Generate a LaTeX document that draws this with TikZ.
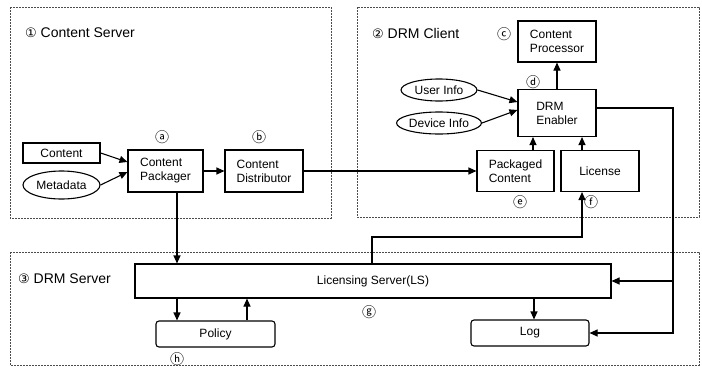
\documentclass[tikz,border=0pt]{standalone}
\usepackage{fontspec}
\setmainfont{Liberation Sans}
\newfontfamily\circfont{DejaVu Sans}
\newfontfamily\tagfont{Noto Sans CJK SC}
\usetikzlibrary{arrows.meta,shapes.geometric}
\tikzset{
  box/.style={draw, line width=1.1pt, inner sep=0pt, align=left, font=\fontsize{12}{14}\selectfont},
  rbox/.style={box, rounded corners=3pt},
  oval/.style={draw, ellipse, line width=1.1pt, inner sep=0pt, font=\fontsize{12}{14}\selectfont},
  group/.style={draw=black!70, dash pattern=on 2pt off 1pt, line width=0.7pt},
  tag/.style={inner sep=0pt, font=\tagfont\fontsize{14}{14}\selectfont},
  title/.style={anchor=west, inner sep=0pt, font=\fontsize{14}{16}\selectfont},
  flow/.style={line width=1.1pt, -{Triangle[length=8pt,width=7pt]}},
  wire/.style={line width=1.1pt}
}

\begin{document}
\begin{tikzpicture}[x=1pt, y=-1pt]
			%%%%% START %%%%%
			\useasboundingbox (0,0) rectangle (702,367);
			
			\draw[group] (10,7) rectangle (331,218);
			\draw[group] (357,7) rectangle (699,217);
			\draw[group] (10,252) rectangle (699,365);
			
			\node[title] (cstitle) at (25,33) {{\circfont\fontsize{13}{14}\selectfont ①} Content Server};
			\node[title] (cltitle) at (372,33) {{\circfont\fontsize{13}{14}\selectfont ②} DRM Client};
			\node[title] (svtitle) at (18,279) {{\circfont\fontsize{13}{14}\selectfont ③} DRM Server};
			
			% content server
			\node[box, minimum width=77pt, minimum height=20pt] (content) at (61.5,153) {Content};
			\node[oval, minimum width=77pt, minimum height=28pt] (metadata) at (61.5,185) {Metadata};
			\node[box, minimum width=75pt, minimum height=42pt] (packager) at (165.5,171) {Content\\Packager};
			\node[box, minimum width=78pt, minimum height=42pt] (distributor) at (264,171) {Content\\Distributor};
			\node[tag] (ta) at (162,137) {ⓐ};
			\node[tag] (tb) at (259,137) {ⓑ};
			
			% drm client
			\node[box, minimum width=78pt, minimum height=41pt] (processor) at (557,41.5) {Content\\Processor};
			\node[box, minimum width=78pt, minimum height=47pt] (enabler) at (557,113) {DRM\\Enabler};
			\node[oval, minimum width=76pt, minimum height=22pt] (userinfo) at (439,90) {User Info};
			\node[oval, minimum width=76pt, minimum height=22pt] (deviceinfo) at (439,123) {Device Info};
			\node[box, minimum width=77pt, minimum height=41pt] (packaged) at (515.5,171) {Packaged\\Content};
			\node[box, minimum width=78pt, minimum height=41pt] (license) at (600,171) {License};
			\node[tag] (tc) at (504,34) {ⓒ};
			\node[tag] (td) at (533,82) {ⓓ};
			\node[tag] (te) at (520,202) {ⓔ};
			\node[tag] (tf) at (591,202) {ⓕ};
			
			% drm server
			\node[box, minimum width=476pt, minimum height=34pt] (ls) at (373,281) {Licensing Server(LS)};
			\node[rbox, minimum width=119pt, minimum height=26pt] (policy) at (215.5,334) {Policy};
			\node[rbox, minimum width=118pt, minimum height=26pt] (log) at (530,333) {Log};
			\node[tag] (tg) at (369,312) {ⓖ};
			\node[tag] (th) at (177,359) {ⓗ};
			
			\coordinate (bend) at (673,281);
			\coordinate (lsup) at (372,237);
			
			\draw[flow] (content.east) -- ([yshift=9pt]packager.west);
			\draw[flow] (metadata.east) -- ([yshift=-1pt]packager.west);
			\draw[flow] (packager.east) -- (distributor.west);
			\draw[flow] (distributor.east) -- (packaged.west);
			
			\draw[flow] (userinfo.east) -- ([yshift=11pt]enabler.west);
			\draw[flow] (deviceinfo.east) -- ([yshift=3pt]enabler.west);
			\draw[flow] ([xshift=17.5pt]packaged.north) -- ([xshift=17.5pt]packaged.north |- enabler.south);
			\draw[flow] ([xshift=-18pt]license.north) -- ([xshift=-18pt]license.north |- enabler.south);
			\draw[flow] (enabler.north) -- (processor.south);
			
			\draw[flow] ([yshift=5pt]enabler.east) -| (bend |- log.east) -- (log.east);
			\draw[flow] (bend) -- (ls.east);
			
			\draw[flow] ([xshift=11.5pt]packager.south) -- ([xshift=11.5pt]packager.south |- ls.north);
			\draw[flow] (lsup |- ls.north) -- (lsup) -| ([xshift=-18pt]license.south);
			\draw[flow] ([xshift=-38.5pt]policy.north |- ls.south) -- ([xshift=-38.5pt]policy.north);
			\draw[flow] ([xshift=31.5pt]policy.north) -- ([xshift=31.5pt]policy.north |- ls.south);
			\draw[flow] ([xshift=4pt]log.north |- ls.south) -- ([xshift=4pt]log.north);
			%%%%% END %%%%%
\end{tikzpicture}
\end{document}
